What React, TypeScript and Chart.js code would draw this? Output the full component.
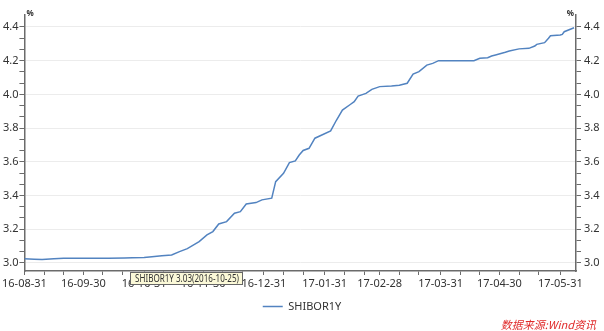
import React, { useEffect, useRef } from 'react';
import { Chart, registerables } from 'chart.js';

Chart.register(...registerables);

// ---------- data ----------
const seriesName = 'SHIBOR1Y';
const dates = [
  '2016-08-31', '2016-09-05', '2016-09-09', '2016-09-15', '2016-09-20', '2016-09-30',
  '2016-10-13', '2016-10-21', '2016-10-25', '2016-10-31', '2016-11-04', '2016-11-09',
  '2016-11-14', '2016-11-18', '2016-11-22', '2016-11-25', '2016-11-28', '2016-12-02',
  '2016-12-05', '2016-12-08', '2016-12-12', '2016-12-16', '2016-12-19', '2016-12-22',
  '2016-12-27', '2016-12-30', '2017-01-04', '2017-01-06', '2017-01-10', '2017-01-13',
  '2017-01-16', '2017-01-18', '2017-01-20', '2017-01-23', '2017-01-26', '2017-02-03',
  '2017-02-06', '2017-02-09', '2017-02-13', '2017-02-15', '2017-02-17', '2017-02-21',
  '2017-02-24', '2017-02-28', '2017-03-06', '2017-03-10', '2017-03-14', '2017-03-17',
  '2017-03-20', '2017-03-24', '2017-03-27', '2017-03-30', '2017-04-17', '2017-04-20',
  '2017-04-24', '2017-04-26', '2017-04-28', '2017-05-03', '2017-05-05', '2017-05-10',
  '2017-05-15', '2017-05-18', '2017-05-19', '2017-05-23', '2017-05-25', '2017-05-26',
  '2017-05-31', '2017-06-01', '2017-06-02', '2017-06-07',
];
const values = [
  3.025, 3.022, 3.020, 3.024, 3.027, 3.028,
  3.028, 3.029, 3.030, 3.032, 3.037, 3.042,
  3.047, 3.067, 3.085, 3.105, 3.126, 3.166,
  3.186, 3.231, 3.245, 3.295, 3.304, 3.350,
  3.358, 3.374, 3.384, 3.482, 3.532, 3.595,
  3.605, 3.640, 3.667, 3.680, 3.740, 3.783,
  3.848, 3.907, 3.940, 3.957, 3.990, 4.006,
  4.030, 4.046, 4.050, 4.054, 4.066, 4.120,
  4.135, 4.174, 4.184, 4.200, 4.200, 4.214,
  4.218, 4.228, 4.234, 4.250, 4.257, 4.270,
  4.273, 4.287, 4.297, 4.307, 4.333, 4.348,
  4.352, 4.356, 4.372, 4.395,
];

const xStartDate = '2016-08-31';
const xEndDate = '2017-06-08';
const xMajorTickDates = [
  '2016-08-31', '2016-09-30', '2016-10-31', '2016-11-30', '2016-12-31',
  '2017-01-31', '2017-02-28', '2017-03-31', '2017-04-30', '2017-05-31',
];
const xMinorTickDaysOfMonth = [10, 20];

const yMajorTicks = [3.0, 3.2, 3.4, 3.6, 3.8, 4.0, 4.2, 4.4];
const yMinorDivisions = 3;
const yMin = 2.952;
const yMax = 4.471;
const yUnit = '%';

const tooltipDate = '2016-10-25';
const tooltipValue = 3.03;
const sourceNote = '数据来源:Wind资讯';

// ---------- helpers ----------
const DAY = 86400000;
const parseUTC = (s: string) => {
  const [y, m, d] = s.split('-').map(Number);
  return Date.UTC(y, m - 1, d);
};
const startMs = parseUTC(xStartDate);
const toDay = (s: string) => Math.round((parseUTC(s) - startMs) / DAY);
const fmtDay = (day: number) => {
  const d = new Date(startMs + day * DAY);
  const yy = String(d.getUTCFullYear()).slice(2);
  const mm = String(d.getUTCMonth() + 1).padStart(2, '0');
  const dd = String(d.getUTCDate()).padStart(2, '0');
  return `${yy}-${mm}-${dd}`;
};

const xMax = toDay(xEndDate);
const xMajorDays = xMajorTickDates.map(toDay);
const xTickDays: number[] = (() => {
  const out = new Set<number>(xMajorDays);
  const s = new Date(startMs);
  for (let i = 0; i < 12; i++) {
    const y = s.getUTCFullYear();
    const m = s.getUTCMonth() + i;
    for (const dd of xMinorTickDaysOfMonth) {
      const day = Math.round((Date.UTC(y, m, dd) - startMs) / DAY);
      if (day >= 0 && day <= xMax) out.add(day);
    }
  }
  return Array.from(out).sort((a, b) => a - b);
})();

const yStep = yMajorTicks[1] - yMajorTicks[0];
const yTickValues: number[] = (() => {
  const out: number[] = [];
  for (let i = 0; i < yMajorTicks.length; i++) {
    out.push(yMajorTicks[i]);
    if (i < yMajorTicks.length - 1) {
      for (let k = 1; k < yMinorDivisions; k++) out.push(yMajorTicks[i] + (yStep * k) / yMinorDivisions);
    }
  }
  return out;
})();
const isYMajor = (v: number) => yMajorTicks.some((m) => Math.abs(m - v) < 1e-6);

const LINE = '#5283c0';
const AXIS = '#6b6b6b';
const TEXT = '#333333';
const FONT = "'Noto Sans', 'DejaVu Sans', sans-serif";

const extrasPlugin = {
  id: 'extras',
  afterDraw(chart: any) {
    const { ctx, chartArea } = chart;
    ctx.save();
    // unit labels
    ctx.fillStyle = TEXT;
    ctx.font = `bold 8px ${FONT}`;
    ctx.textBaseline = 'middle';
    ctx.textAlign = 'left';
    ctx.fillText(yUnit, chartArea.left + 2, chartArea.top - 1);
    ctx.textAlign = 'right';
    ctx.fillText(yUnit, chartArea.right - 2, chartArea.top - 1);

    // hover tooltip box
    const xs = chart.scales.x;
    const px = xs.getPixelForValue(toDay(tooltipDate));
    const label = `${seriesName} ${tooltipValue.toFixed(2)}(${tooltipDate})`;
    ctx.font = `10px ${FONT}`;
    const w10 = ctx.measureText(label).width;
    const sx = 104 / w10;
    const bx = Math.round(px) - 1.5;
    const by = chartArea.bottom + 1.5;
    const bw = 112;
    const bh = 12;
    ctx.fillStyle = '#fbf9d8';
    ctx.fillRect(bx, by, bw, bh);
    ctx.strokeStyle = '#666';
    ctx.lineWidth = 1;
    ctx.strokeRect(bx, by, bw, bh);
    ctx.fillStyle = '#333';
    ctx.textAlign = 'left';
    ctx.textBaseline = 'middle';
    ctx.save();
    ctx.translate(bx + 4.5, by + bh / 2 + 0.5);
    ctx.scale(sx, 1);
    ctx.fillText(label, 0, 0);
    ctx.restore();

    // source note
    ctx.fillStyle = '#e02a2a';
    ctx.font = `italic 11px 'Noto Sans CJK SC', sans-serif`;
    ctx.textAlign = 'right';
    ctx.textBaseline = 'bottom';
    ctx.fillText(sourceNote, chart.width - 8, chart.height - 1);
    ctx.restore();
  },
};

export default function App() {
  const ref = useRef<HTMLCanvasElement>(null);

  useEffect(() => {
    if (!ref.current) return;
    const points = dates.map((d, i) => ({ x: toDay(d), y: values[i] }));

    const yScale = (position: 'left' | 'right') => ({
      type: 'linear' as const,
      position,
      min: yMin,
      max: yMax,
      afterBuildTicks: (scale: any) => {
        scale.ticks = yTickValues.map((v) => ({ value: v }));
      },
      afterFit: (scale: any) => {
        scale.width = position === 'left' ? 24 : 28;
      },
      border: { display: true, color: AXIS, width: 1.5 },
      grid: {
        drawOnChartArea: position === 'left',
        color: (c: any) => (c.tick && isYMajor(c.tick.value) ? '#ececec' : 'rgba(0,0,0,0)'),
        tickColor: AXIS,
        tickLength: 5,
        tickWidth: 1,
        lineWidth: 1,
      },
      ticks: {
        autoSkip: false,
        padding: position === 'left' ? 1 : 3,
        color: TEXT,
        font: { family: FONT, size: 11 },
        callback: (v: any) => (isYMajor(Number(v)) ? Number(v).toFixed(1) : ''),
      },
    });

    const chart = new Chart(ref.current, {
      type: 'line',
      data: {
        datasets: [
          {
            label: seriesName,
            data: points,
            borderColor: LINE,
            backgroundColor: LINE,
            borderWidth: 1.5,
            pointRadius: 0,
            pointHoverRadius: 0,
            tension: 0,
            fill: false,
            pointStyle: 'line',
          },
        ],
      },
      options: {
        responsive: false,
        animation: false,
        events: [],
        layout: { padding: { top: 15, left: 0, right: 0, bottom: 9 } },
        plugins: {
          tooltip: { enabled: false },
          legend: {
            display: true,
            position: 'bottom',
            labels: {
              usePointStyle: true,
              pointStyle: 'line',
              pointStyleWidth: 20,
              boxHeight: 11,
              padding: 10,
              color: TEXT,
              font: { family: FONT, size: 11 },
            },
          },
        },
        scales: {
          x: {
            type: 'linear',
            min: 0,
            max: xMax,
            afterBuildTicks: (scale: any) => {
              scale.ticks = xTickDays.map((v) => ({ value: v }));
            },
            afterFit: (scale: any) => {
              scale.height = 20;
            },
            border: { display: true, color: AXIS, width: 1.5 },
            grid: {
              drawOnChartArea: false,
              color: AXIS,
              tickColor: AXIS,
              tickLength: 4,
              tickWidth: 1,
            },
            ticks: {
              autoSkip: false,
              maxRotation: 0,
              minRotation: 0,
              padding: 2,
              color: TEXT,
              font: { family: FONT, size: 11 },
              callback: (v: any) => (xMajorDays.includes(Number(v)) ? fmtDay(Number(v)) : ''),
            },
          },
          y: yScale('left'),
          y2: yScale('right'),
        },
      },
      plugins: [extrasPlugin],
    });
    return () => chart.destroy();
  }, []);

  return (
    <div style={{ position: 'fixed', left: 0, top: 0, width: 604, height: 331, background: '#fff' }}>
      <canvas ref={ref} width={604} height={331} style={{ display: 'block' }} />
    </div>
  );
}
